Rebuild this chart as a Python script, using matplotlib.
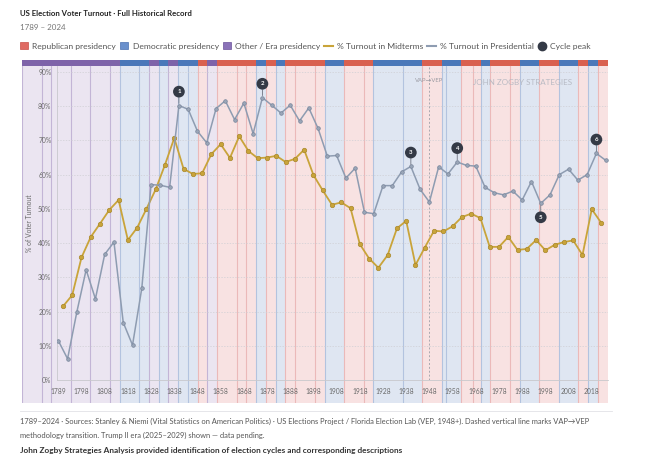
import matplotlib.pyplot as plt
from matplotlib.patches import Patch
from matplotlib.lines import Line2D

plt.rcParams['font.family'] = ['Lato', 'DejaVu Sans']

# Presidential election turnout (%)
pres_years = [1789, 1792, 1796, 1800, 1804, 1808, 1812, 1816, 1820, 1824,
              1828, 1832, 1836, 1840, 1844, 1848, 1852, 1856, 1860, 1864,
              1868, 1872, 1876, 1880, 1884, 1888, 1892, 1896, 1900, 1904,
              1908, 1912, 1916, 1920, 1924, 1928, 1932, 1936, 1940, 1944,
              1948, 1952, 1956, 1960, 1964, 1968, 1972, 1976, 1980, 1984,
              1988, 1992, 1996, 2000, 2004, 2008, 2012, 2016, 2020, 2024]
pres_turnout = [11.5, 6.2, 19.9, 32.2, 23.7, 36.7, 40.3, 16.8, 10.2, 26.8,
                57.1, 56.9, 56.3, 80.2, 79.1, 72.7, 69.3, 79.3, 81.6, 76.1,
                80.9, 72.0, 82.5, 80.3, 78.0, 80.3, 75.7, 79.5, 73.5, 65.4,
                65.6, 59.0, 61.9, 49.0, 48.6, 56.8, 56.8, 60.8, 62.4, 55.7,
                52.0, 62.3, 60.2, 63.7, 62.7, 62.5, 56.3, 54.7, 54.1, 55.2,
                52.6, 58.0, 51.6, 54.1, 60.0, 61.6, 58.4, 60.0, 66.2, 64.2]

# Midterm election turnout (%)
mid_years = [1790, 1794, 1798, 1802, 1806, 1810, 1814, 1818, 1822, 1826,
             1830, 1834, 1838, 1842, 1846, 1850, 1854, 1858, 1862, 1866,
             1870, 1874, 1878, 1882, 1886, 1890, 1894, 1898, 1902, 1906,
             1910, 1914, 1918, 1922, 1926, 1930, 1934, 1938, 1942, 1946,
             1950, 1954, 1958, 1962, 1966, 1970, 1974, 1978, 1982, 1986,
             1990, 1994, 1998, 2002, 2006, 2010, 2014, 2018, 2022]
mid_turnout = [21.5, 24.8, 35.8, 41.8, 45.7, 49.7, 52.6, 40.9, 44.5, 50.0,
               55.7, 62.9, 70.7, 61.7, 60.2, 60.4, 66.0, 68.9, 64.9, 71.2,
               66.9, 64.8, 65.0, 65.5, 63.7, 64.6, 67.3, 59.9, 55.4, 51.2,
               51.9, 50.2, 39.7, 35.5, 32.8, 36.5, 44.3, 46.5, 33.6, 38.7,
               43.6, 43.4, 44.9, 47.6, 48.6, 47.3, 38.9, 38.9, 41.8, 38.0,
               38.3, 40.9, 37.9, 39.5, 40.3, 40.8, 36.5, 49.9, 46.0]

# Presidencies: start, end, party (R / D / O = other / era)
pres_start = [1789, 1797, 1801, 1809, 1817, 1825, 1829, 1837, 1841, 1845,
              1849, 1853, 1857, 1861, 1865, 1869, 1877, 1881, 1885, 1889,
              1893, 1897, 1901, 1909, 1913, 1921, 1929, 1933, 1945, 1953,
              1961, 1963, 1969, 1974, 1977, 1981, 1989, 1993, 2001, 2009,
              2017, 2021, 2025]
pres_end = pres_start[1:] + [2029]
pres_party = ['O', 'O', 'O', 'O', 'O', 'O', 'D', 'D', 'O', 'D',
              'O', 'D', 'D', 'R', 'O', 'R', 'R', 'R', 'D', 'R',
              'D', 'R', 'R', 'R', 'D', 'R', 'R', 'D', 'D', 'R',
              'D', 'D', 'R', 'R', 'D', 'R', 'R', 'D', 'R', 'D',
              'R', 'D', 'R']

tick_labels = ['1789', '1798', '1808', '1818', '1828', '1838', '1848', '1858',
               '1868', '1878', '1888', '1898', '1908', '1918', '1928', '1938',
               '1948', '1958', '1968', '1978', '1988', '1998', '2008', '2018']

peak_years = [1840, 1876, 1940, 1960, 1996, 2020]
peak_below = [1996]

light = {'R': '#f8e2e2', 'D': '#dfe6f2', 'O': '#ebe5f1'}
strong = {'R': '#d9604f', 'D': '#4a78b9', 'O': '#7e63a9'}
edge = {'R': '#ebb9b9', 'D': '#b3c3df', 'O': '#c3b5d6'}

W, H = 650, 472
fig = plt.figure(figsize=(6.5, 4.72), dpi=100)

# background presidency bands (year scale)
bg = fig.add_axes([22 / W, 1 - 403 / H, (607.5 - 22) / W, 343 / H])
bg.set_xlim(1789, 2029)
bg.set_ylim(0, 1)
bg.axis('off')
strip = 1 - 6 / 343
for s, e, p in zip(pres_start, pres_end, pres_party):
    bg.axvspan(s, e, 0, strip, color=light[p], lw=0)
    bg.axvspan(s, e, strip, 1, color=strong[p], lw=0)
    bg.plot([s, s], [0, strip], color=edge[p], lw=0.8)

# data axes (election categories)
ax = fig.add_axes([57 / W, 1 - 380 / H, (608 - 57) / W, 314 / H])
ax.set_facecolor('none')
elections = sorted(pres_years + mid_years)
pos = {y: i for i, y in enumerate(elections)}
ax.set_xlim(-0.28, 118.5)
ax.set_ylim(0, 91.75)

ax.set_yticks(range(0, 91, 10))
ax.set_yticklabels([f'{v}%' for v in range(0, 91, 10)])
ax.set_xticks([pos[int(t)] for t in tick_labels])
ax.set_xticklabels(tick_labels)
ax.tick_params(length=0, labelsize=4.9, labelcolor='#6b6b6b')
ax.tick_params(axis='x', pad=6)
ax.tick_params(axis='y', pad=4)
ax.yaxis.grid(True, color='#cfcfd4', lw=0.5, ls=(0, (2, 2)))
for side in ['top', 'right']:
    ax.spines[side].set_visible(False)
for side in ['left', 'bottom']:
    ax.spines[side].set_color('#c8c8cc')
    ax.spines[side].set_linewidth(0.6)
ax.set_ylabel('% of Voter Turnout', fontsize=4.9, color='#6b6b6b', labelpad=4)

mid_x = [pos[y] for y in mid_years]
pres_x = [pos[y] for y in pres_years]
ax.plot(mid_x, mid_turnout, color='#c9a43a', lw=1.3, marker='o', ms=3.2,
        mfc='#c9a43a', mec='#a8872a', mew=0.5, zorder=4)
ax.plot(pres_x, pres_turnout, color='#8e9cb1', lw=1.1, marker='o', ms=2.6,
        mfc='#9aa6b8', mec='#77849a', mew=0.5, zorder=5)

# VAP -> VEP methodology transition
ax.axvline(pos[1948], color='#a9a9b0', lw=0.7, ls=(0, (2, 2)), zorder=3)
ax.text(pos[1948], 87.5, 'VAP→VEP', fontsize=4.2, color='#9a9aa2',
        ha='center', va='center')
ax.text(pos[1992] - 2, 87.0, 'JOHN ZOGBY STRATEGIES', fontsize=5.8,
        color='#b3b6c0', ha='center', va='center', alpha=0.9)

# cycle peaks
turn = dict(zip(pres_years, pres_turnout))
for n, y in enumerate(peak_years, 1):
    dy = -10 if y in peak_below else 10
    ax.annotate(str(n), xy=(pos[y], turn[y]), xytext=(0, dy),
                textcoords='offset points', ha='center', va='center',
                fontsize=4.4, color='white', fontweight='bold', zorder=6,
                bbox=dict(boxstyle='circle,pad=0.55', fc='#343a46', ec='none'),
                arrowprops=dict(arrowstyle='-', color='#6d7280', lw=0.6,
                                shrinkA=0, shrinkB=1.5))

# header
fig.text(19.6 / W, 1 - 14 / H, 'US Election Voter Turnout · Full Historical Record',
         fontsize=5.6, fontweight='bold', color='#222222', va='center')
fig.text(19.6 / W, 1 - 27.5 / H, '1789 – 2024', fontsize=5.8, color='#777777',
         va='center')

handles = [
    Patch(fc='#e06b63', ec='#c95048', lw=0.5, label='Republican presidency'),
    Patch(fc='#6a90cc', ec='#4a70b0', lw=0.5, label='Democratic presidency'),
    Patch(fc='#8a72b8', ec='#6a529a', lw=0.5, label='Other / Era presidency'),
    Line2D([], [], color='#c9a43a', lw=1.5, label='% Turnout in Midterms'),
    Line2D([], [], color='#8e9cb1', lw=1.5, label='% Turnout in Presidential'),
    Line2D([], [], ls='none', marker='o', ms=6, mfc='#343a46', mec='#343a46',
           label='Cycle peak'),
]
fig.legend(handles=handles, loc='center left', bbox_to_anchor=(19.6 / W, 1 - 46 / H),
           ncol=6, frameon=False, fontsize=6.1, labelcolor='#555555',
           handlelength=1.0, handleheight=0.85, handletextpad=0.5,
           columnspacing=0.45, borderaxespad=0, borderpad=0)

# footer
fig.add_artist(Line2D([19.6 / W, 612 / W], [1 - 410.7 / H] * 2, color='#e2e2e6',
                      lw=0.6, transform=fig.transFigure))
fig.text(19.6 / W, 1 - 421.7 / H,
         '1789–2024 · Sources: Stanley & Niemi (Vital Statistics on American Politics) · '
         'US Elections Project / Florida Election Lab (VEP, 1948+). Dashed vertical line marks VAP→VEP',
         fontsize=5.42, color='#555555', va='center')
fig.text(19.6 / W, 1 - 435.5 / H,
         'methodology transition. Trump II era (2025–2029) shown — data pending.',
         fontsize=5.42, color='#555555', va='center')
fig.text(19.6 / W, 1 - 450 / H,
         'John Zogby Strategies Analysis provided identification of election cycles '
         'and corresponding descriptions',
         fontsize=5.95, fontweight='bold', color='#333333', va='center')

fig.savefig('out.png', dpi=100, facecolor='white')
